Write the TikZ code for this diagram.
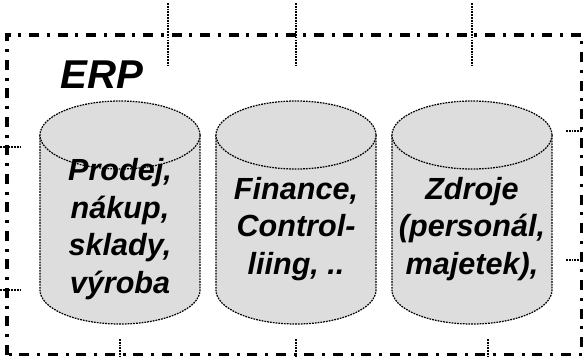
\documentclass[tikz,border=0pt]{standalone}
\usepackage{fontspec}
\setmainfont{Liberation Sans}
\newfontfamily\bifont{Liberation Sans Bold Italic}
\usetikzlibrary{positioning}

\begin{document}
\begin{tikzpicture}[x=0.02cm, y=0.02cm,
    frame/.style={line width=1.8pt, dash pattern=on 0.2cm off 0.15cm on 0.06cm off 0.16cm},
    tick/.style={line width=0.7pt, dash pattern=on 1pt off 0.6pt},
    drum/.style={line width=0.7pt, dash pattern=on 1pt off 0.6pt, fill=gray!27},
    drumtext/.style={font=\bifont\fontsize{17.4}{21.4}\selectfont, align=center}]
  \useasboundingbox (0,0) rectangle (583,356);
  % ticks round the frame
  \foreach \x in {168, 296, 472}
    \draw[tick] (\x,353) -- (\x,290);
  \foreach \x in {120, 296, 488}
    \draw[tick] (\x,17) -- (\x,0);
  \foreach \y in {209, 66}
    \draw[tick] (0,\y) -- (22,\y);
  \foreach \y in {225, 96}
    \draw[tick] (566,\y) -- (583,\y);
  \draw[frame] (7,1.5) rectangle (582,321);
  \node[font=\bifont\fontsize{22.9}{26}\selectfont, anchor=base west, inner sep=0pt] (erp) at (60,268) {ERP};
  % the three drums
  \foreach \cx in {120, 296, 472} {
    \draw[drum] (\cx-80,221) -- (\cx-80,66) arc (180:360:80 and 34) -- (\cx+80,221);
    \draw[drum] (\cx,221) ellipse (80 and 34);
  }
  \node[drumtext] (prodej) at (120,127) {Prodej,\\nákup,\\sklady,\\výroba};
  \node[drumtext] (finance) at (296,127) {Finance,\\Control-\\liing, ..};
  \node[drumtext] (zdroje) at (472,127) {Zdroje\\(personál,\\majetek),};
\end{tikzpicture}
\end{document}
